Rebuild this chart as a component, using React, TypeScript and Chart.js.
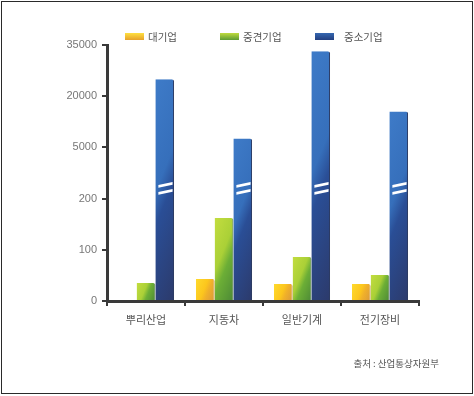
import React, { useEffect, useRef } from 'react';
import { Chart, registerables, LinearScale } from 'chart.js';

const categories = ['뿌리산업', '지동차', '일반기계', '전기장비'];
const seriesNames = ['대기업', '중견기업', '중소기업'];
const largeFirms = [0, 43, 33, 33];
const midFirms = [35, 162, 86, 51];
const smallFirms = [25000, 7600, 33200, 15500];
const yTicks = [0, 100, 200, 5000, 20000, 35000];
const sourceNote = '출처 : 산업통상자원부';

const CAT_PCT = 0.72;
const FONT = "'Liberation Sans', 'Noto Sans CJK KR', sans-serif";
const KFONT = "'Noto Sans CJK KR', 'Liberation Sans', sans-serif";

class BrokenScale extends LinearScale {
  static id = 'broken';
  static defaults = {};
  determineDataLimits() {
    this.min = yTicks[0];
    this.max = yTicks[yTicks.length - 1];
  }
  buildTicks() {
    return yTicks.map((value) => ({ value }));
  }
  valueToDecimal(v: number) {
    const n = yTicks.length - 1;
    if (v <= yTicks[0]) return 0;
    for (let i = 0; i < n; i++) {
      const a = yTicks[i];
      const b = yTicks[i + 1];
      if (v <= b) return (i + (v - a) / (b - a)) / n;
    }
    return 1;
  }
  getPixelForValue(v: number) {
    return this.getPixelForDecimal(this.valueToDecimal(v));
  }
  getValueForPixel(p: number) {
    const n = yTicks.length - 1;
    const d = Math.min(Math.max(this.getDecimalForPixel(p), 0), 1) * n;
    const i = Math.min(Math.floor(d), n - 1);
    return yTicks[i] + (d - i) * (yTicks[i + 1] - yTicks[i]);
  }
}

Chart.register(...registerables, BrokenScale);

type Stop = [number, string];
const yellowStops: Stop[] = [[0, '#ffda2c'], [0.45, '#fcc61d'], [0.62, '#f0b02a'], [1, '#d8983b']];
const greenStops: Stop[] = [[0, '#c3dd3f'], [0.42, '#aad037'], [0.6, '#6cae36'], [1, '#4c8936']];
const blueStops: Stop[] = [[0, '#3e7bc8'], [0.42, '#366fbb'], [0.55, '#2a4e96'], [1, '#2c3a6b']];
const legendColors = [
  ['#ffe040', '#e6a12a'],
  ['#c0db3e', '#5d9b33'],
  ['#3567b0', '#233f80'],
];

function barFill(c: any, stops: Stop[]) {
  const chart = c.chart;
  const xs = chart.scales && chart.scales.x;
  const ys = chart.scales && chart.scales.y;
  if (!chart.chartArea || !xs || !ys || c.type !== 'data' || c.raw == null) return stops[0][1];
  const catW = (xs.right - xs.left) / categories.length;
  const groupW = catW * CAT_PCT;
  const barW = groupW / seriesNames.length;
  const left = xs.getPixelForValue(c.dataIndex) - groupW / 2 + c.datasetIndex * barW;
  const top = ys.getPixelForValue(c.raw);
  const bottom = ys.getPixelForValue(0);
  const h = Math.max(bottom - top, 1);
  const ux = 44;
  const uy = 18;
  const norm = Math.sqrt(ux * ux + uy * uy);
  const len = (ux * barW + uy * h) / norm;
  const g = chart.ctx.createLinearGradient(left, top, left + (ux / norm) * len, top + (uy / norm) * len);
  stops.forEach(([o, col]) => g.addColorStop(o, col));
  return g;
}

const decorPlugin = {
  id: 'decor',
  afterDatasetsDraw(chart: any) {
    const { ctx } = chart;
    const ys = chart.scales.y;
    const meta = chart.getDatasetMeta(2);
    const p200 = ys.getPixelForValue(200);
    const p5000 = ys.getPixelForValue(5000);
    const yc = p200 + (p5000 - p200) * 0.2;
    ctx.save();
    ctx.fillStyle = '#ffffff';
    meta.data.forEach((bar: any) => {
      const { x, width } = bar.getProps(['x', 'width'], true);
      const l = x - width / 2 + 3;
      const r = x + width / 2 - 1.5;
      [-3.5, 3.5].forEach((off) => {
        const y = yc + off;
        ctx.beginPath();
        ctx.moveTo(l, y + 2.8);
        ctx.lineTo(r, y - 0.2);
        ctx.lineTo(r, y - 2.8);
        ctx.lineTo(l, y + 0.2);
        ctx.closePath();
        ctx.fill();
      });
    });
    ctx.restore();
  },
  afterDraw(chart: any) {
    const { ctx } = chart;
    ctx.save();
    const boxX = [125, 220, 315];
    const textX = [148, 243, 344];
    seriesNames.forEach((name, i) => {
      const g = ctx.createLinearGradient(0, 33, 0, 40);
      g.addColorStop(0, legendColors[i][0]);
      g.addColorStop(1, legendColors[i][1]);
      ctx.fillStyle = g;
      ctx.fillRect(boxX[i], 33, 19, 7);
      ctx.fillStyle = '#555555';
      ctx.font = `10.5px ${KFONT}`;
      ctx.textAlign = 'left';
      ctx.textBaseline = 'middle';
      ctx.fillText(name, textX[i], 37);
    });
    ctx.fillStyle = '#555555';
    ctx.font = `9.5px ${KFONT}`;
    ctx.textAlign = 'right';
    ctx.textBaseline = 'middle';
    ctx.fillText(sourceNote, 439, 363);
    ctx.restore();
  },
};

export default function App() {
  const ref = useRef<HTMLCanvasElement | null>(null);
  useEffect(() => {
    if (!ref.current) return;
    const barCommon = {
      borderWidth: { top: 0, right: 1, bottom: 0, left: 0 },
      borderRadius: { topLeft: 0, topRight: 2, bottomLeft: 0, bottomRight: 0 },
      categoryPercentage: CAT_PCT,
      barPercentage: 1,
    };
    const chart = new Chart(ref.current, {
      type: 'bar',
      data: {
        labels: categories,
        datasets: [
          { label: seriesNames[0], data: largeFirms, backgroundColor: (c: any) => barFill(c, yellowStops), borderColor: '#b88a30', ...barCommon },
          { label: seriesNames[1], data: midFirms, backgroundColor: (c: any) => barFill(c, greenStops), borderColor: '#3f7030', ...barCommon },
          { label: seriesNames[2], data: smallFirms, backgroundColor: (c: any) => barFill(c, blueStops), borderColor: '#1c2b55', ...barCommon },
        ],
      } as any,
      options: {
        responsive: false,
        animation: false,
        devicePixelRatio: 1,
        layout: { padding: { top: 45, right: 55, left: 0, bottom: 0 } },
        plugins: { legend: { display: false }, tooltip: { enabled: false } },
        scales: {
          x: {
            type: 'category',
            grid: { display: true, offset: true, drawOnChartArea: false, drawTicks: true, tickLength: 5, color: '#3a3a3a', lineWidth: 2 },
            border: { display: true, color: '#3a3a3a', width: 3 },
            ticks: { color: '#555555', padding: 7, font: { size: 11, family: KFONT } },
            afterFit: (s: any) => { s.height = 95; },
          },
          y: {
            type: 'broken',
            position: 'left',
            grid: { display: true, drawOnChartArea: false, drawTicks: true, tickLength: 5, color: '#3a3a3a', lineWidth: 2 },
            border: { display: true, color: '#3a3a3a', width: 3 },
            ticks: { color: '#777777', padding: 5, font: { size: 11, family: FONT }, callback: (v: any) => String(v), autoSkip: false },
            afterFit: (s: any) => { s.width = 107; },
          },
        },
      } as any,
      plugins: [decorPlugin],
    });
    return () => chart.destroy();
  }, []);
  return (
    <div style={{ position: 'fixed', left: 0, top: 0, width: 474, height: 396, background: '#ffffff' }}>
      <canvas ref={ref} width={474} height={396} style={{ display: 'block' }} />
      <div
        style={{
          position: 'absolute',
          left: 1,
          top: 1,
          width: 472,
          height: 393,
          boxSizing: 'border-box',
          border: '1.5px solid #2a2a2a',
          pointerEvents: 'none',
        }}
      />
    </div>
  );
}
